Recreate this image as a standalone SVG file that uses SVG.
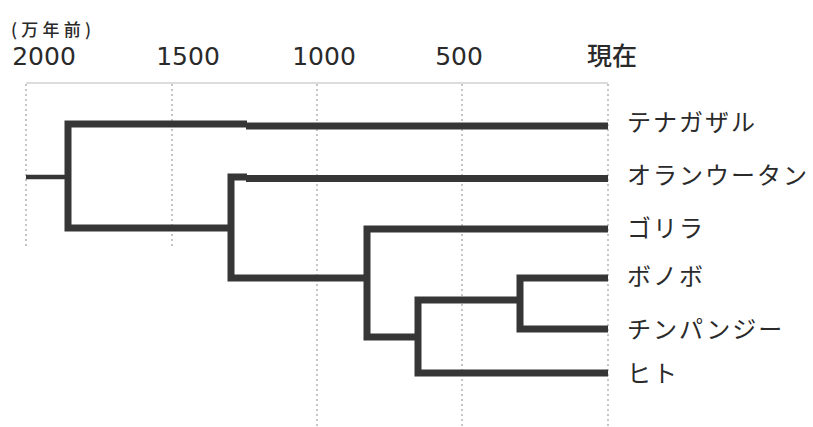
<svg xmlns="http://www.w3.org/2000/svg" width="813" height="427" viewBox="0 0 813 427">
<style>
.grid{stroke:#b8b8b8;stroke-width:1.6;stroke-dasharray:2 3;fill:none}
.axis{stroke:#d0d0d0;stroke-width:1.5;fill:none}
.br{stroke:#363636;stroke-width:7;fill:none;stroke-linejoin:miter;stroke-linecap:butt}
.tick{font-family:"DejaVu Sans","Noto Sans CJK JP",sans-serif;font-size:25px;fill:#2a2a2a;text-anchor:middle}
.lbl{font-family:"Noto Sans CJK JP",sans-serif;font-size:24px;fill:#2a2a2a;letter-spacing:2px}
.unit{font-family:"Noto Sans CJK JP",sans-serif;font-size:17px;font-weight:500;fill:#2a2a2a}
</style>
<rect width="813" height="427" fill="#ffffff"/>
<g id="axis">
<line class="axis" x1="26" y1="83" x2="608" y2="83"/>
<line class="grid" x1="26" y1="84" x2="26" y2="249"/>
<line class="grid" x1="172" y1="84" x2="172" y2="249"/>
<line class="grid" x1="317" y1="84" x2="317" y2="427"/>
<line class="grid" x1="462" y1="84" x2="462" y2="427"/>
<line class="grid" x1="608" y1="84" x2="608" y2="427"/>
<text class="unit" x="11" y="36" textLength="80" lengthAdjust="spacing">(万年前)</text>
<text class="tick" x="44" y="65">2000</text>
<text class="tick" x="188" y="65">1500</text>
<text class="tick" x="324" y="65">1000</text>
<text class="tick" x="459" y="65">500</text>
<text x="612" y="65" text-anchor="middle" fill="#2a2a2a" font-family="Noto Sans CJK JP,sans-serif" font-weight="500" font-size="25">現在</text>
</g>
<g id="connectors">
<line x1="26" y1="177" x2="68" y2="177" stroke="#363636" stroke-width="4.5"/>
<path class="br" d="M247,124 H68 V228 H231"/>
<path class="br" d="M246,126 H608"/>
<path class="br" d="M247,177 H231 V278 H370"/>
<path class="br" d="M246,178.5 H608"/>
<path class="br" d="M608,229 H367 V337 H418"/>
<path class="br" d="M520,300 H418 V373 H608"/>
<path class="br" d="M608,278 H520 V329 H608"/>
</g>
<g id="n-gibbon"><text class="lbl" x="627" y="131">テナガザル</text></g>
<g id="n-orangutan"><text class="lbl" x="627" y="184">オランウータン</text></g>
<g id="n-gorilla"><text class="lbl" x="627" y="237">ゴリラ</text></g>
<g id="n-bonobo"><text class="lbl" x="627" y="285">ボノボ</text></g>
<g id="n-chimp"><text class="lbl" x="627" y="338">チンパンジー</text></g>
<g id="n-human"><text class="lbl" x="627" y="382">ヒト</text></g>
</svg>
